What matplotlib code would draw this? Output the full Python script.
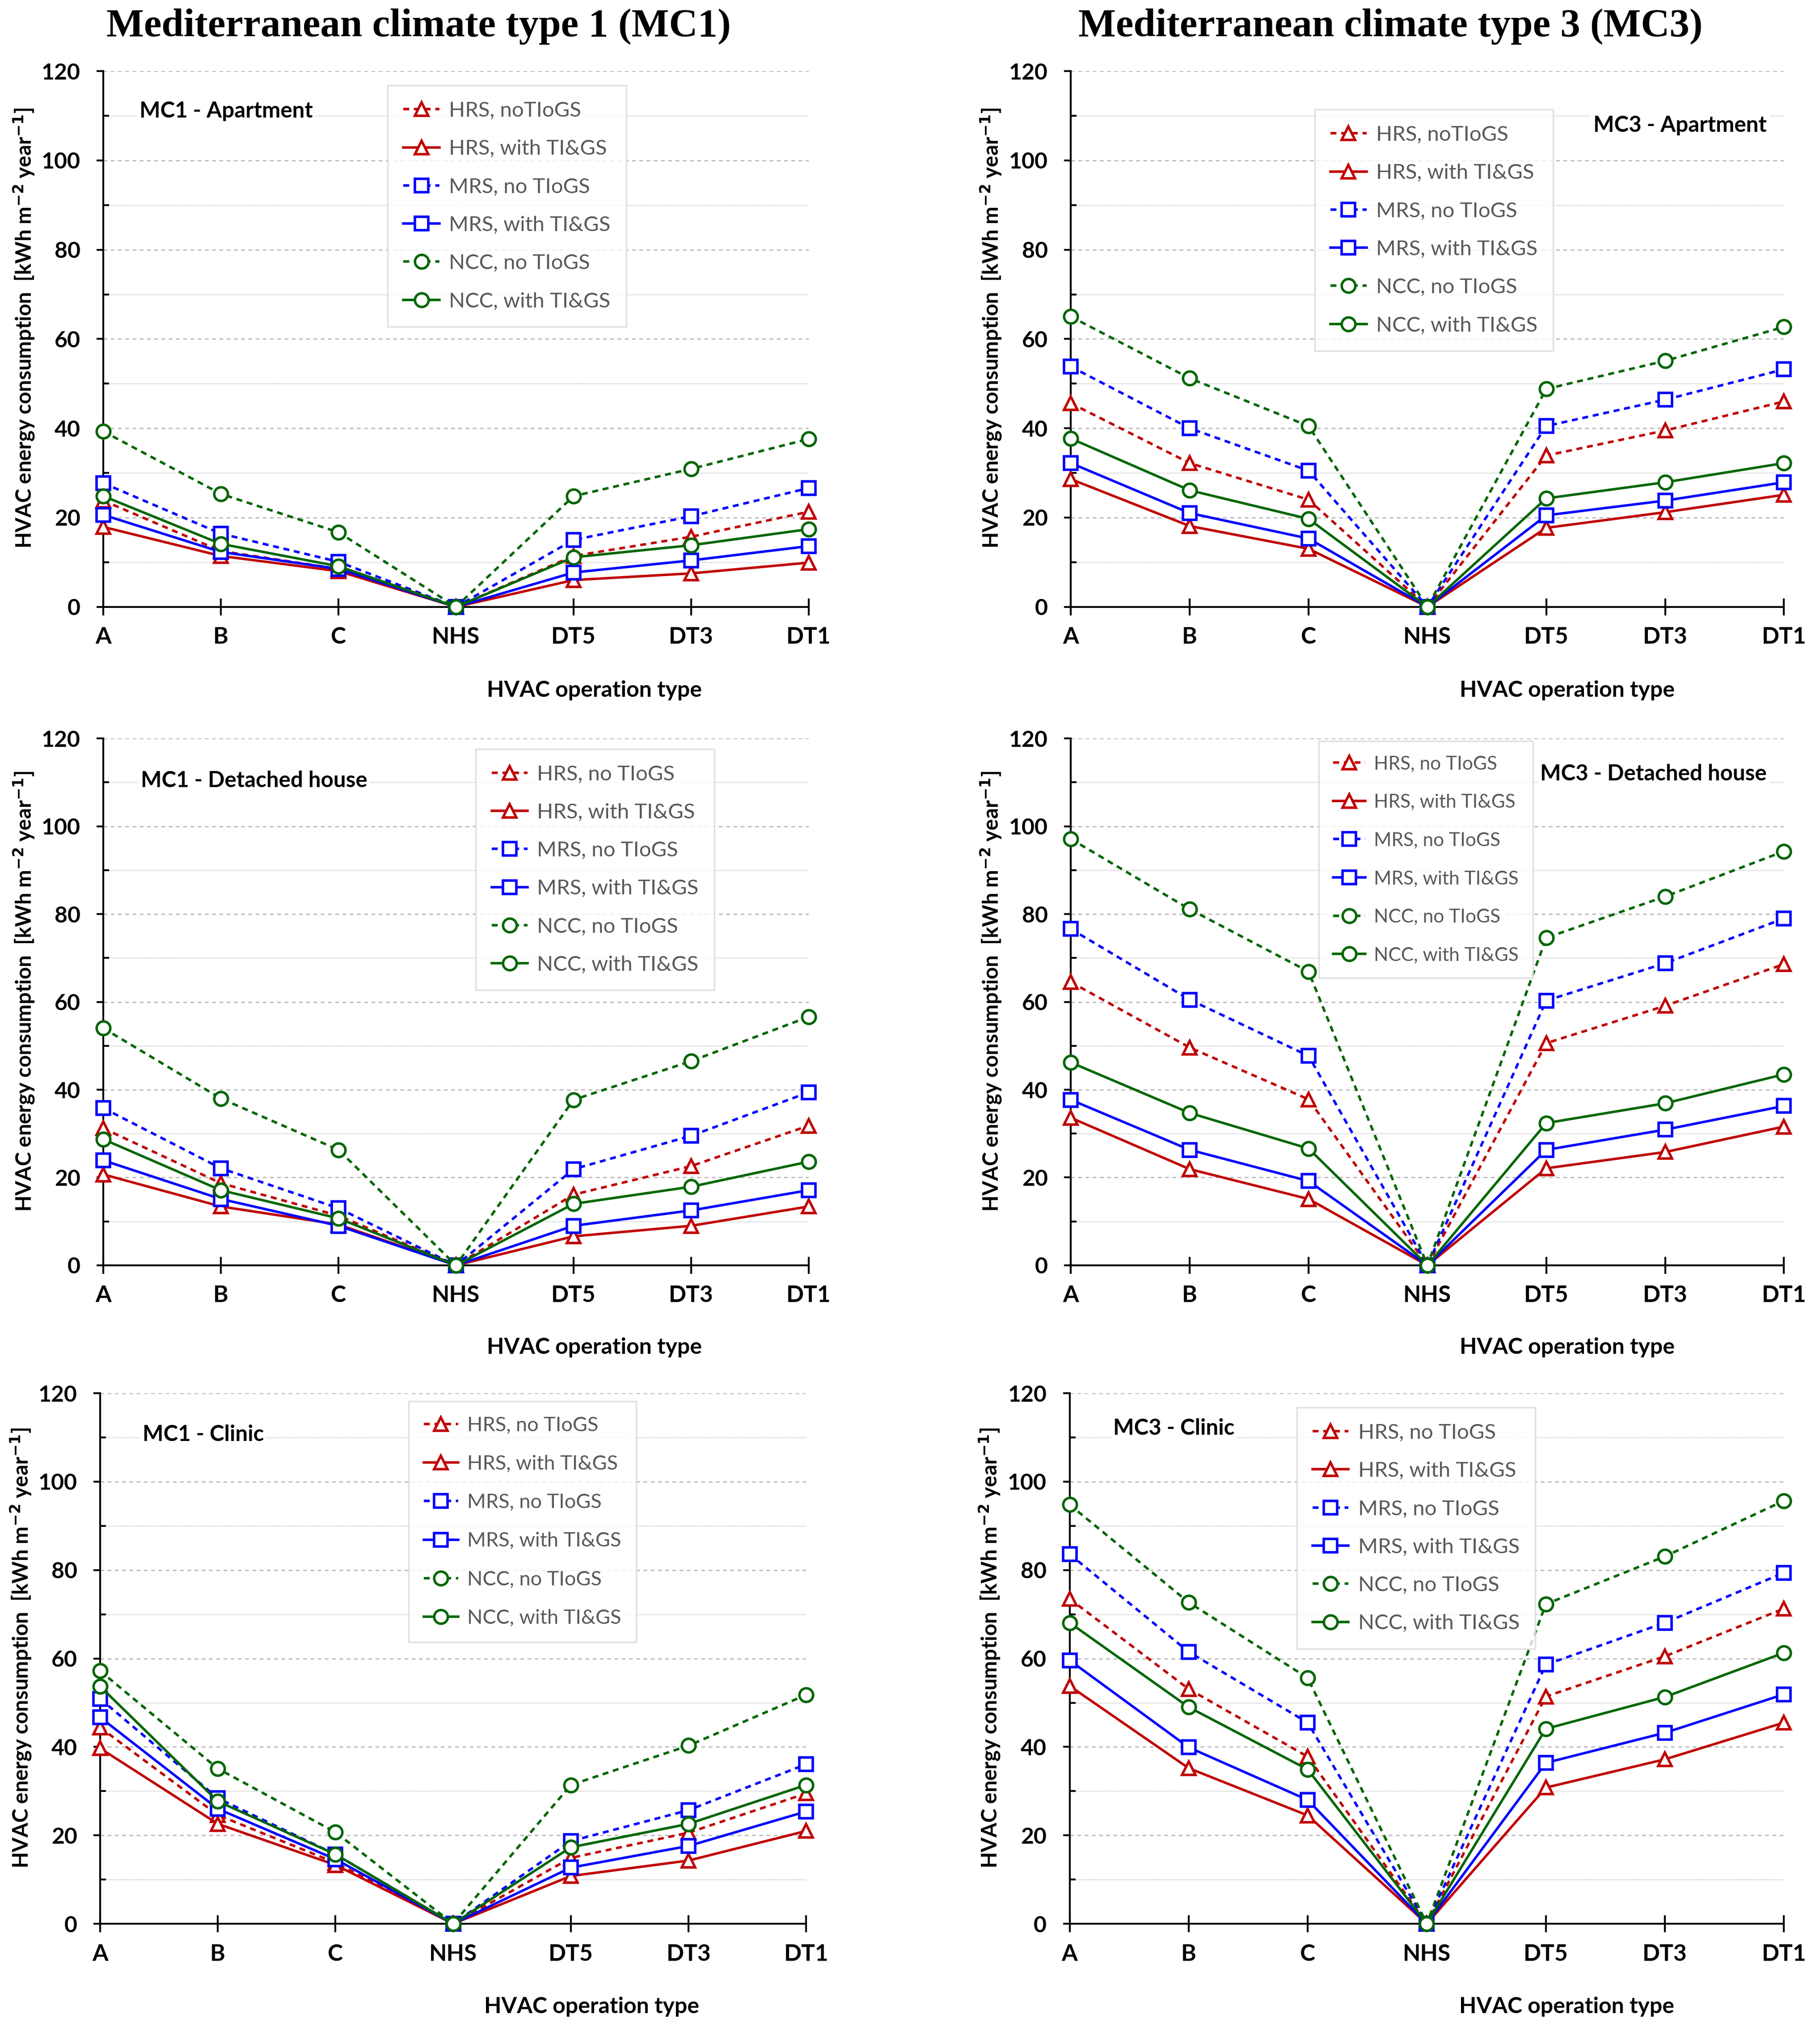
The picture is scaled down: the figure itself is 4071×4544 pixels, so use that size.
import matplotlib
matplotlib.use('Agg')
import matplotlib.pyplot as plt
from matplotlib.ticker import MultipleLocator

plt.rcParams['font.family'] = ['Lato', 'DejaVu Sans']

# HVAC operation types (x axis)
categories = ['A', 'B', 'C', 'NHS', 'DT5', 'DT3', 'DT1']

# MC1 - Apartment
mc1_apt_hrs_no = [23.8, 12.5, 8.5, 0, 11.4, 15.7, 21.3]
mc1_apt_hrs_ti = [17.9, 11.4, 8.0, 0, 6.0, 7.5, 9.9]
mc1_apt_mrs_no = [27.7, 16.4, 10.1, 0, 15.0, 20.3, 26.6]
mc1_apt_mrs_ti = [20.6, 12.3, 8.5, 0, 7.7, 10.4, 13.6]
mc1_apt_ncc_no = [39.3, 25.3, 16.7, 0, 24.8, 30.9, 37.6]
mc1_apt_ncc_ti = [24.8, 14.1, 9.1, 0, 11.1, 13.8, 17.4]

# MC3 - Apartment
mc3_apt_hrs_no = [45.6, 32.2, 24.0, 0, 33.9, 39.5, 46.0]
mc3_apt_hrs_ti = [28.6, 18.1, 13.0, 0, 17.7, 21.2, 25.1]
mc3_apt_mrs_no = [53.8, 40.0, 30.5, 0, 40.5, 46.4, 53.2]
mc3_apt_mrs_ti = [32.2, 21.0, 15.3, 0, 20.5, 23.8, 27.9]
mc3_apt_ncc_no = [65.0, 51.2, 40.5, 0, 48.8, 55.1, 62.7]
mc3_apt_ncc_ti = [37.7, 26.1, 19.7, 0, 24.3, 27.9, 32.2]

# MC1 - Detached house
mc1_det_hrs_no = [31.2, 18.7, 11.3, 0, 16.1, 22.6, 31.8]
mc1_det_hrs_ti = [20.7, 13.4, 9.3, 0, 6.6, 9.0, 13.4]
mc1_det_mrs_no = [35.8, 22.1, 13.0, 0, 21.9, 29.5, 39.4]
mc1_det_mrs_ti = [23.9, 15.1, 9.0, 0, 9.0, 12.5, 17.1]
mc1_det_ncc_no = [54.0, 38.0, 26.3, 0, 37.7, 46.5, 56.6]
mc1_det_ncc_ti = [28.7, 17.1, 10.7, 0, 14.0, 17.9, 23.6]

# MC3 - Detached house
mc3_det_hrs_no = [64.5, 49.6, 37.8, 0, 50.6, 59.1, 68.6]
mc3_det_hrs_ti = [33.6, 21.9, 15.1, 0, 22.1, 25.8, 31.6]
mc3_det_mrs_no = [76.6, 60.5, 47.7, 0, 60.3, 68.8, 79.0]
mc3_det_mrs_ti = [37.7, 26.3, 19.2, 0, 26.3, 30.9, 36.3]
mc3_det_ncc_no = [97.1, 81.1, 66.9, 0, 74.6, 84.0, 94.3]
mc3_det_ncc_ti = [46.2, 34.7, 26.6, 0, 32.4, 36.9, 43.5]

# MC1 - Clinic
mc1_cli_hrs_no = [44.4, 24.6, 13.8, 0, 14.9, 20.6, 29.5]
mc1_cli_hrs_ti = [39.7, 22.6, 13.3, 0, 10.8, 14.3, 21.0]
mc1_cli_mrs_no = [50.9, 28.4, 15.7, 0, 18.7, 25.7, 36.1]
mc1_cli_mrs_ti = [46.7, 26.0, 14.6, 0, 12.7, 17.6, 25.4]
mc1_cli_ncc_no = [57.2, 35.1, 20.7, 0, 31.4, 40.3, 51.8]
mc1_cli_ncc_ti = [53.7, 27.7, 15.7, 0, 17.3, 22.6, 31.4]

# MC3 - Clinic
mc3_cli_hrs_no = [73.5, 53.1, 37.8, 0, 51.4, 60.5, 71.3]
mc3_cli_hrs_ti = [53.8, 35.2, 24.5, 0, 30.8, 37.2, 45.5]
mc3_cli_mrs_no = [83.6, 61.5, 45.5, 0, 58.6, 68.1, 79.4]
mc3_cli_mrs_ti = [59.6, 39.9, 28.0, 0, 36.4, 43.2, 51.9]
mc3_cli_ncc_no = [94.8, 72.7, 55.6, 0, 72.3, 83.1, 95.7]
mc3_cli_ncc_ti = [68.1, 49.0, 34.9, 0, 44.1, 51.3, 61.3]

labels_a = ['HRS, noTIoGS', 'HRS, with TI&GS', 'MRS, no TIoGS',
            'MRS, with TI&GS', 'NCC, no TIoGS', 'NCC, with TI&GS']
labels_b = ['HRS, no TIoGS', 'HRS, with TI&GS', 'MRS, no TIoGS',
            'MRS, with TI&GS', 'NCC, no TIoGS', 'NCC, with TI&GS']

red, blue, green = '#C00000', '#0000FF', '#006600'
styles = [(red, '^', True), (red, '^', False),
          (blue, 's', True), (blue, 's', False),
          (green, 'o', True), (green, 'o', False)]

# panel: name, series, legend labels, axes rect, legend anchor, legend size, name pos/align
panels = [
    ('MC1 - Apartment',
     [mc1_apt_hrs_no, mc1_apt_hrs_ti, mc1_apt_mrs_no, mc1_apt_mrs_ti, mc1_apt_ncc_no, mc1_apt_ncc_ti],
     labels_a, [0.0568, 0.7012, 0.3875, 0.2638], (0.403, 0.973), 34, (0.051, 0.925, 'left')),
    ('MC3 - Apartment',
     [mc3_apt_hrs_no, mc3_apt_hrs_ti, mc3_apt_mrs_no, mc3_apt_mrs_ti, mc3_apt_ncc_no, mc3_apt_ncc_ti],
     labels_a, [0.5884, 0.7012, 0.3918, 0.2638], (0.342, 0.928), 34, (0.976, 0.899, 'right')),
    ('MC1 - Detached house',
     [mc1_det_hrs_no, mc1_det_hrs_ti, mc1_det_mrs_no, mc1_det_mrs_ti, mc1_det_ncc_no, mc1_det_ncc_ti],
     labels_b, [0.0568, 0.3770, 0.3875, 0.2594], (0.528, 0.980), 34, (0.053, 0.920, 'left')),
    ('MC3 - Detached house',
     [mc3_det_hrs_no, mc3_det_hrs_ti, mc3_det_mrs_no, mc3_det_mrs_ti, mc3_det_ncc_no, mc3_det_ncc_ti],
     labels_b, [0.5884, 0.3770, 0.3918, 0.2594], (0.348, 0.995), 30.5, (0.976, 0.933, 'right')),
    ('MC1 - Clinic',
     [mc1_cli_hrs_no, mc1_cli_hrs_ti, mc1_cli_mrs_no, mc1_cli_mrs_ti, mc1_cli_ncc_no, mc1_cli_ncc_ti],
     labels_b, [0.0550, 0.0528, 0.3880, 0.2612], (0.437, 0.985), 32.5, (0.060, 0.922, 'left')),
    ('MC3 - Clinic',
     [mc3_cli_hrs_no, mc3_cli_hrs_ti, mc3_cli_mrs_no, mc3_cli_mrs_ti, mc3_cli_ncc_no, mc3_cli_ncc_ti],
     labels_b, [0.5877, 0.0528, 0.3925, 0.2612], (0.318, 0.973), 34, (0.061, 0.934, 'left')),
]

fig = plt.figure(figsize=(40.71, 45.44), dpi=100)

for name, series, labels, rect, leg_pos, leg_fs, lab in panels:
    ax = fig.add_axes(rect)
    x = range(len(categories))
    for vals, (col, mk, dashed), lbl in zip(series, styles, labels):
        ls = (0, (2.4, 1.9)) if dashed else '-'
        ax.plot(x, vals, color=col, linestyle=ls, linewidth=4, marker=mk,
                markersize=22, markerfacecolor='white', markeredgecolor=col,
                markeredgewidth=4, label=lbl, clip_on=False, zorder=3)

    ax.set_xlim(0, 6)
    ax.set_ylim(0, 120)
    ax.set_xticks(list(x))
    ax.set_xticklabels(categories)
    ax.yaxis.set_major_locator(MultipleLocator(20))
    ax.yaxis.set_minor_locator(MultipleLocator(10))
    ax.grid(True, which='major', axis='y', color='#BFBFBF', linewidth=2.2,
            linestyle=(0, (2.8, 2.5)), zorder=0)
    ax.grid(True, which='minor', axis='y', color='#D0D0D0', linewidth=2,
            linestyle=(0, (0.6, 0.6)), zorder=0)
    ax.set_axisbelow(True)

    for s in ['top', 'right']:
        ax.spines[s].set_visible(False)
    for s in ['left', 'bottom']:
        ax.spines[s].set_linewidth(3)
        ax.spines[s].set_color('black')

    ax.tick_params(axis='y', which='major', direction='out', length=11, width=3,
                   pad=26, labelsize=36)
    ax.tick_params(axis='y', which='minor', direction='in', length=9, width=3)
    ax.tick_params(axis='x', which='major', direction='inout', length=28, width=3,
                   pad=18, labelsize=37)
    for t in ax.get_xticklabels() + ax.get_yticklabels():
        t.set_fontweight('bold')

    ax.set_xlabel('HVAC operation type', fontsize=36, fontweight='bold')
    ax.xaxis.set_label_coords(0.696, -0.137)
    ax.set_ylabel(r'HVAC energy consumption  [kWh m$^{\mathbf{-2}}$ year$^{\mathbf{-1}}$]',
                  fontsize=34, fontweight='bold')
    ax.yaxis.set_label_coords(-0.095, 0.52)

    ax.text(lab[0], lab[1], name, transform=ax.transAxes, ha=lab[2], va='center',
            fontsize=35.5, fontweight='bold', zorder=2,
            bbox=dict(facecolor='white', edgecolor='none', pad=4))

    # keep the row pitch the same in every legend, whatever its font size
    spacing = 61.6 / leg_fs - 0.895
    leg = ax.legend(loc='upper left', bbox_to_anchor=leg_pos, fontsize=leg_fs,
                    frameon=True, fancybox=False, edgecolor='#D9D9D9',
                    handlelength=1.7, handletextpad=0.45, labelspacing=spacing,
                    borderpad=0.75, borderaxespad=0)
    leg.get_frame().set_linewidth(2.5)
    leg.set_zorder(5)
    for t in leg.get_texts():
        t.set_color('#595959')

fig.text(0.230, 0.987, 'Mediterranean climate type 1 (MC1)', ha='center', va='center',
         fontsize=64, fontweight='bold', family='Liberation Serif')
fig.text(0.764, 0.987, 'Mediterranean climate type 3 (MC3)', ha='center', va='center',
         fontsize=64, fontweight='bold', family='Liberation Serif')

fig.savefig('out.png', dpi=100, facecolor='white')
